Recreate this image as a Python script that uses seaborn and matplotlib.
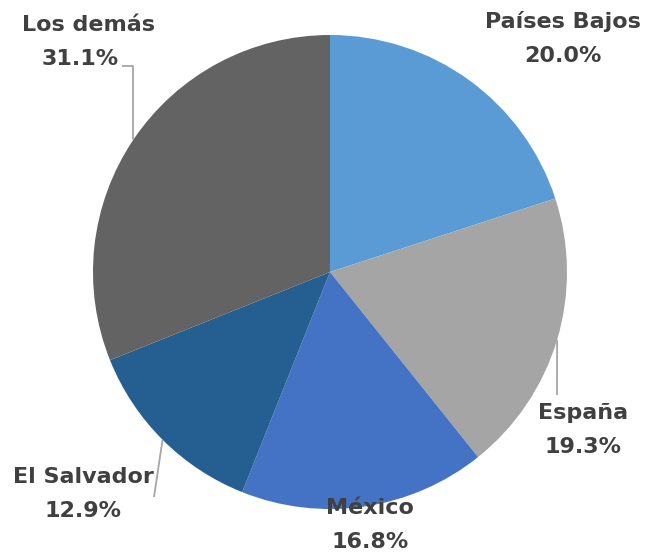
import numpy as np
import matplotlib.pyplot as plt
import seaborn as sns

# shares of total, clockwise from 12 o'clock
countries = ["Países Bajos", "España", "México", "El Salvador", "Los demás"]
shares = [20.0, 19.3, 16.8, 12.9, 31.1]
colors = ["#5B9BD5", "#A5A5A5", "#4472C4", "#255E91", "#636363"]

sns.set_theme(style="white")
plt.rcParams["font.family"] = ["DejaVu Sans"]

W, H = 648, 553
fig = plt.figure(figsize=(W / 100, H / 100), dpi=100)
ax = fig.add_axes([0, 0, 1, 1])

cx, cy, r = 330, H - 272, 237
wedges, _ = ax.pie(
    shares, colors=colors, startangle=90, counterclock=False,
    radius=r, center=(cx, cy), frame=True,
    wedgeprops={"linewidth": 0},
)
ax.set_xlim(0, W)
ax.set_ylim(0, H)
ax.set_aspect("equal")
ax.axis("off")

# label text centre (pixel coords, y down); percent line sits 34px below
label_pos = {
    "Países Bajos": (563, 22),
    "España": (583, 413),
    "México": (370, 508),
    "El Salvador": (83, 477),
    "Los demás": (88, 25),
}
# percent x-centre where it differs from the name
pct_x = {"Los demás": 80}
leaders = {
    "España": [(557, 395)],
    "El Salvador": [(154, 497)],
    "Los demás": [(122, 66), (133, 66)],
}

txt_color = "#404040"
for name, val, w in zip(countries, shares, wedges):
    x, y = label_pos[name]
    ax.text(x, H - y, name, ha="center", va="center", fontsize=16,
            fontweight="bold", color=txt_color)
    ax.text(pct_x.get(name, x), H - y - 34, f"{val:.1f}%", ha="center",
            va="center", fontsize=16, fontweight="bold", color=txt_color)
    if name in leaders:
        mid = np.deg2rad((w.theta1 + w.theta2) / 2)
        ex, ey = cx + r * np.cos(mid), cy + r * np.sin(mid)
        pts = [(px, H - py) for px, py in leaders[name]]
        if name == "Los demás":
            pts = pts + [(pts[-1][0], ey)]
        xs = [p[0] for p in pts] + [ex]
        ys = [p[1] for p in pts] + [ey]
        ax.plot(xs, ys, color="#A6A6A6", lw=1.3, solid_capstyle="butt")

fig.savefig("out.png", dpi=100)
